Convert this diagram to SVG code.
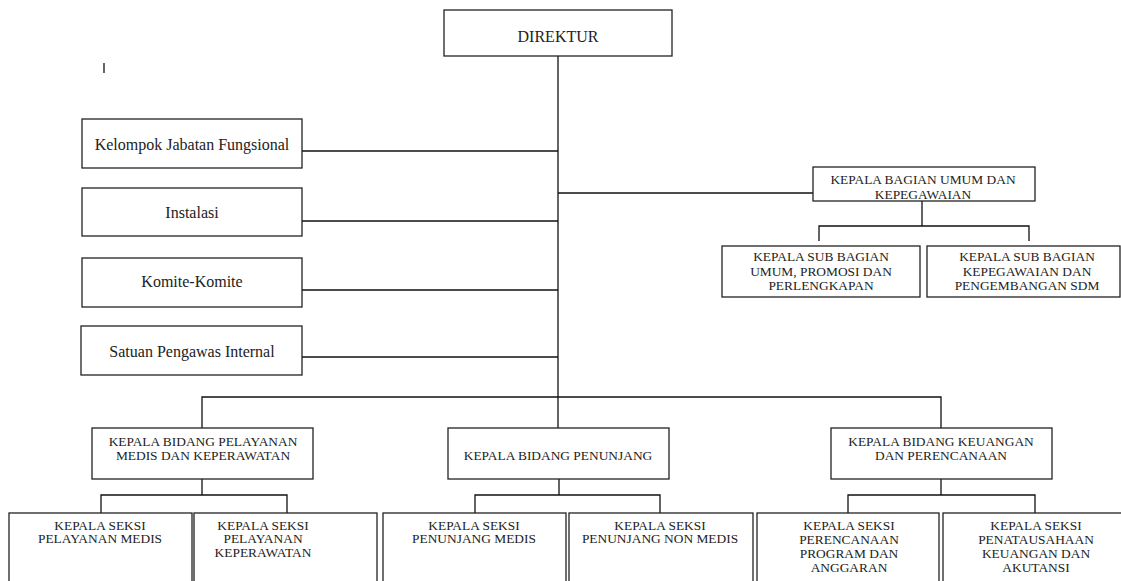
<svg xmlns="http://www.w3.org/2000/svg" width="1121" height="581" viewBox="0 0 1121 581">
<style>
.box{fill:#fff;stroke:#222;stroke-width:1.3}
.ln{fill:none;stroke:#111;stroke-width:1.3}
.t{font-family:"Liberation Serif","Times New Roman",serif;fill:#222;text-anchor:middle}
.m{font-size:16px}
.c{font-size:13.4px}
</style>
<rect width="1121" height="581" fill="#fff"/>
<g id="connectors">
<path class="ln" d="M558 56V397"/>
<path class="ln" d="M302 151H558M302 221H558M302 290H558M302 357H558M558 193H813"/>
<path class="ln" d="M922 201V226M819 241V226H1029V241"/>
<path class="ln" d="M202 428V397H941V428M558 397V428"/>
<path class="ln" d="M202 479V495M101 513V495H287V513"/>
<path class="ln" d="M559 479V495M475 513V495H660V513"/>
<path class="ln" d="M941 479V495M848 513V495H1035V513"/>
<path class="ln" d="M104 63V73"/>
</g>
<g id="direktur"><rect class="box" x="444" y="10" width="228" height="46"/><text class="t m" x="558" y="42">DIREKTUR</text></g>
<g id="kelompok"><rect class="box" x="82" y="119" width="220" height="49"/><text class="t m" x="192" y="150">Kelompok Jabatan Fungsional</text></g>
<g id="instalasi"><rect class="box" x="82" y="188" width="220" height="48"/><text class="t m" x="192" y="218">Instalasi</text></g>
<g id="komite"><rect class="box" x="82" y="258" width="220" height="49"/><text class="t m" x="192" y="287">Komite-Komite</text></g>
<g id="spi"><rect class="box" x="81" y="326" width="221" height="49"/><text class="t m" x="192" y="357">Satuan Pengawas Internal</text></g>
<g id="bagian-umum"><rect class="box" x="813" y="167" width="222" height="34"/><text class="t c" x="923" y="184">KEPALA BAGIAN UMUM DAN<tspan x="923" y="199">KEPEGAWAIAN</tspan></text></g>
<g id="subbag-umum"><rect class="box" x="722" y="246" width="198" height="51"/><text class="t c" x="821" y="261">KEPALA SUB BAGIAN<tspan x="821" y="276">UMUM, PROMOSI DAN</tspan><tspan x="821" y="290">PERLENGKAPAN</tspan></text></g>
<g id="subbag-kepegawaian"><rect class="box" x="927" y="246" width="193" height="51"/><text class="t c" x="1027" y="261">KEPALA SUB BAGIAN<tspan x="1027" y="276">KEPEGAWAIAN DAN</tspan><tspan x="1027" y="290">PENGEMBANGAN SDM</tspan></text></g>
<g id="bidang-pelayanan"><rect class="box" x="92" y="428" width="221" height="51"/><text class="t c" x="203" y="446">KEPALA BIDANG PELAYANAN<tspan x="203" y="460">MEDIS DAN KEPERAWATAN</tspan></text></g>
<g id="bidang-penunjang"><rect class="box" x="448" y="428" width="221" height="51"/><text class="t c" x="558" y="460">KEPALA BIDANG PENUNJANG</text></g>
<g id="bidang-keuangan"><rect class="box" x="831" y="428" width="221" height="51"/><text class="t c" x="941" y="446">KEPALA BIDANG KEUANGAN<tspan x="941" y="460">DAN PERENCANAAN</tspan></text></g>
<g id="seksi-pelayanan-medis"><rect class="box" x="9" y="513" width="183" height="80"/><text class="t c" x="100" y="530">KEPALA SEKSI<tspan x="100" y="543">PELAYANAN MEDIS</tspan></text></g>
<g id="seksi-keperawatan"><rect class="box" x="194" y="513" width="183" height="80"/><text class="t c" x="263" y="530">KEPALA SEKSI<tspan x="263" y="543">PELAYANAN</tspan><tspan x="263" y="557">KEPERAWATAN</tspan></text></g>
<g id="seksi-penunjang-medis"><rect class="box" x="383" y="513" width="183" height="80"/><text class="t c" x="474" y="530">KEPALA SEKSI<tspan x="474" y="543">PENUNJANG MEDIS</tspan></text></g>
<g id="seksi-penunjang-non-medis"><rect class="box" x="569" y="513" width="184" height="80"/><text class="t c" x="660" y="530">KEPALA SEKSI<tspan x="660" y="543">PENUNJANG NON MEDIS</tspan></text></g>
<g id="seksi-perencanaan"><rect class="box" x="757" y="513" width="182" height="80"/><text class="t c" x="849" y="530">KEPALA SEKSI<tspan x="849" y="544">PERENCANAAN</tspan><tspan x="849" y="558">PROGRAM DAN</tspan><tspan x="849" y="572">ANGGARAN</tspan></text></g>
<g id="seksi-penatausahaan"><rect class="box" x="943" y="513" width="190" height="80"/><text class="t c" x="1036" y="530">KEPALA SEKSI<tspan x="1036" y="544">PENATAUSAHAAN</tspan><tspan x="1036" y="558">KEUANGAN DAN</tspan><tspan x="1036" y="572">AKUTANSI</tspan></text></g>
</svg>
